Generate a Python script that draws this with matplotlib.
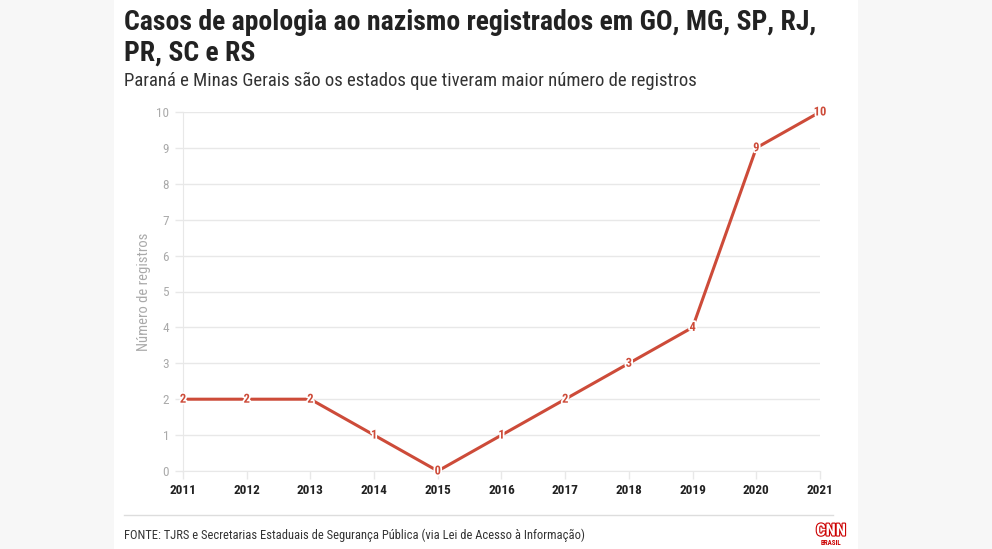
import matplotlib
matplotlib.use('Agg')
import matplotlib.pyplot as plt
import matplotlib.patheffects as pe
from matplotlib.patches import Rectangle

# dados
anos = [2011, 2012, 2013, 2014, 2015, 2016, 2017, 2018, 2019, 2020, 2021]
casos = [2, 2, 2, 1, 0, 1, 2, 3, 4, 9, 10]
y_ticks = list(range(0, 11))

titulo = 'Casos de apologia ao nazismo registrados em GO, MG, SP, RJ,\nPR, SC e RS'
subtitulo = 'Paraná e Minas Gerais são os estados que tiveram maior número de registros'
fonte = 'FONTE: TJRS e Secretarias Estaduais de Segurança Pública (via Lei de Acesso à Informação)'

plt.rcParams['font.family'] = ['Roboto Condensed', 'DejaVu Sans']

cor_linha = '#cd4b39'
cor_grade = '#e8e8e8'
cor_cinza = '#aaaaaa'

fig = plt.figure(figsize=(9.92, 5.49), dpi=100)
fig.patch.set_facecolor('#f7f7f7')
# painel branco
fig.patches.append(Rectangle((114 / 992, 0), (858 - 114) / 992, 1,
                             transform=fig.transFigure, facecolor='white',
                             edgecolor='none', zorder=-5))

ax = fig.add_axes([183 / 992, 78 / 549, (820 - 183) / 992, (471 - 112) / 549])
ax.set_zorder(2)
ax.set_facecolor('white')
ax.plot(anos, casos, color=cor_linha, linewidth=2.2, zorder=3, clip_on=False)

# rótulos de valor
for a, c in zip(anos, casos):
    ax.text(a, c, str(c), ha='center', va='center', fontsize=9,
            fontweight='bold', color=cor_linha, zorder=4,
            path_effects=[pe.withStroke(linewidth=2.5, foreground='white')])

ax.set_xlim(2011, 2021)
ax.set_ylim(0, 10)
ax.set_xticks(anos)
ax.set_xticklabels([str(a) for a in anos], fontweight='bold', fontsize=9.5, color='#222222')
ax.set_yticks(y_ticks)
ax.set_yticklabels([str(v) for v in y_ticks], fontsize=9.5, color=cor_cinza)
ax.tick_params(axis='both', length=6, width=1, color=cor_grade)
ax.tick_params(axis='y', pad=4)
ax.tick_params(axis='x', pad=3)
ax.grid(axis='y', color=cor_grade, linewidth=1)
ax.set_axisbelow(True)
for lado in ['top', 'right']:
    ax.spines[lado].set_visible(False)
for lado in ['left', 'bottom']:
    ax.spines[lado].set_color(cor_grade)
ax.set_ylabel('Número de registros', fontsize=10.5, color=cor_cinza, labelpad=4)

# textos
fig.text(124 / 992, 1 - 9 / 549, titulo, ha='left', va='top', fontsize=20,
         fontweight='bold', color='#222222', linespacing=1.15)
fig.text(124 / 992, 1 - 81 / 549, subtitulo, ha='left', va='center',
         fontsize=13.5, color='#333333')

fig.add_artist(plt.Line2D([124 / 992, 833 / 992], [1 - 515 / 549] * 2,
                          color='#dddddd', linewidth=1))
fig.text(124 / 992, 1 - 535 / 549, fonte, ha='left', va='center',
         fontsize=9, color='#333333')

# logo CNN
fig.text(831 / 992, 1 - 531 / 549, 'CNN', ha='center', va='center', fontsize=12,
         fontweight='bold', color='white', family=['Roboto Condensed'],
         path_effects=[pe.withStroke(linewidth=1.6, foreground='#cc0000')])
fig.text(831 / 992, 1 - 543 / 549, 'BRASIL', ha='center', va='center', fontsize=5,
         fontweight='bold', color='#cc0000')

fig.savefig('out.png', dpi=100, facecolor=fig.get_facecolor())
